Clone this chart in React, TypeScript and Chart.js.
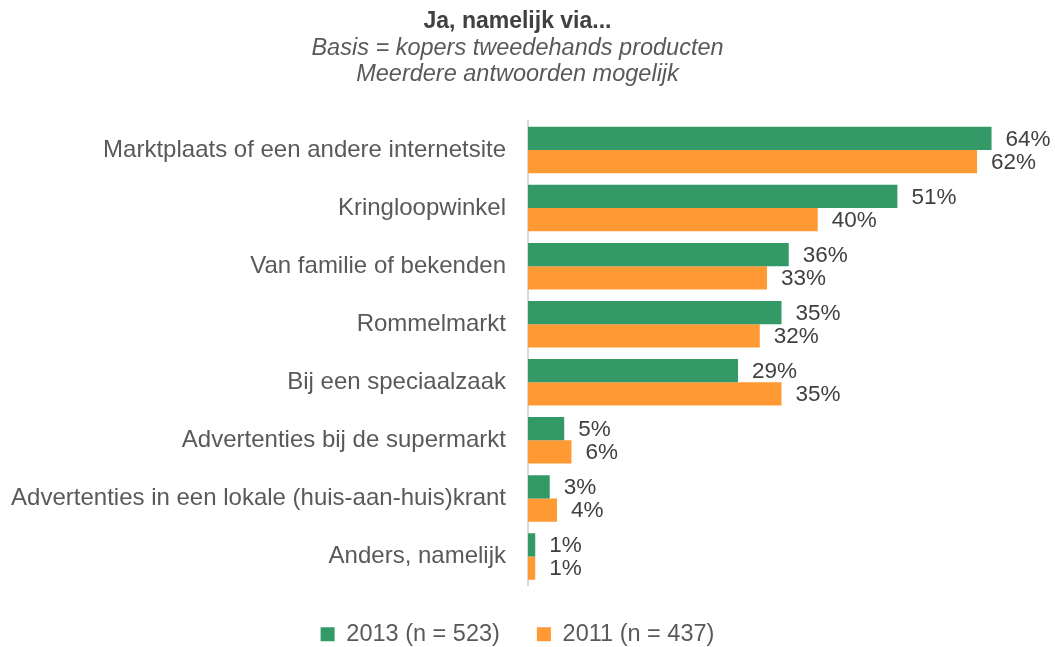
import React, { useEffect, useRef } from "react";
import { Chart, registerables } from "chart.js";

Chart.register(...registerables);

const categories = [
  "Marktplaats of een andere internetsite",
  "Kringloopwinkel",
  "Van familie of bekenden",
  "Rommelmarkt",
  "Bij een speciaalzaak",
  "Advertenties bij de supermarkt",
  "Advertenties in een lokale (huis-aan-huis)krant",
  "Anders, namelijk",
];
const values2013 = [64, 51, 36, 35, 29, 5, 3, 1];
const values2011 = [62, 40, 33, 32, 35, 6, 4, 1];
const seriesLabels = ["2013 (n = 523)", "2011 (n = 437)"];
const titleText = "Ja, namelijk via...";
const subtitleLines = ["Basis = kopers tweedehands producten", "Meerdere antwoorden mogelijk"];

const FONT = "'Liberation Sans', Arial, sans-serif";

const valueLabels = {
  id: "valueLabels",
  afterDatasetsDraw(chart: any) {
    const ctx = chart.ctx;
    ctx.save();
    ctx.font = `22.5px ${FONT}`;
    ctx.fillStyle = "#404040";
    ctx.textAlign = "left";
    ctx.textBaseline = "middle";
    chart.data.datasets.forEach((ds: any, di: number) => {
      const meta = chart.getDatasetMeta(di);
      meta.data.forEach((bar: any, i: number) => {
        ctx.fillText(ds.data[i] + "%", bar.x + 14, bar.y + 1);
      });
    });
    ctx.restore();
  },
};

export default function App() {
  const ref = useRef<HTMLCanvasElement>(null);
  useEffect(() => {
    document.body.style.margin = "0";
    const chart = new Chart(ref.current!, {
      type: "bar",
      data: {
        labels: categories,
        datasets: [
          {
            label: seriesLabels[0],
            data: values2013,
            backgroundColor: "#339966",
            borderWidth: 0,
            categoryPercentage: 0.8,
            barPercentage: 1.0,
          },
          {
            label: seriesLabels[1],
            data: values2011,
            backgroundColor: "#FF9933",
            borderWidth: 0,
            categoryPercentage: 0.8,
            barPercentage: 1.0,
          },
        ],
      },
      options: {
        indexAxis: "y",
        animation: false,
        responsive: false,
        layout: { padding: { left: 0, right: 20, top: 0, bottom: -9 } },
        scales: {
          x: {
            display: false,
            min: 0,
            max: 70,
          },
          y: {
            afterFit(scale: any) {
              scale.width = 528;
            },
            grid: { display: false, drawTicks: false },
            border: { display: true, color: "#d9d9d9", width: 2 },
            ticks: {
              padding: 22,
              color: "#595959",
              font: { family: FONT, size: 24 },
            },
          },
        },
        plugins: {
          title: {
            display: true,
            text: titleText,
            color: "#404040",
            font: { family: FONT, size: 23, weight: "bold", lineHeight: "24px" },
            padding: { top: 10, bottom: 0 },
          },
          subtitle: {
            display: true,
            text: subtitleLines,
            color: "#595959",
            font: { family: FONT, size: 23.5, style: "italic", lineHeight: "26px" },
            padding: { top: 1, bottom: 34 },
          },
          legend: {
            position: "bottom",
            labels: {
              color: "#595959",
              font: { family: FONT, size: 23.5 },
              boxWidth: 14,
              boxHeight: 14,
              padding: 37,
            },
          },
          tooltip: { enabled: false },
        },
      },
      plugins: [valueLabels],
    } as any);
    return () => chart.destroy();
  }, []);
  return (
    <div style={{ width: 1055, height: 647 }}>
      <canvas ref={ref} width={1055} height={647} style={{ display: "block" }} />
    </div>
  );
}
